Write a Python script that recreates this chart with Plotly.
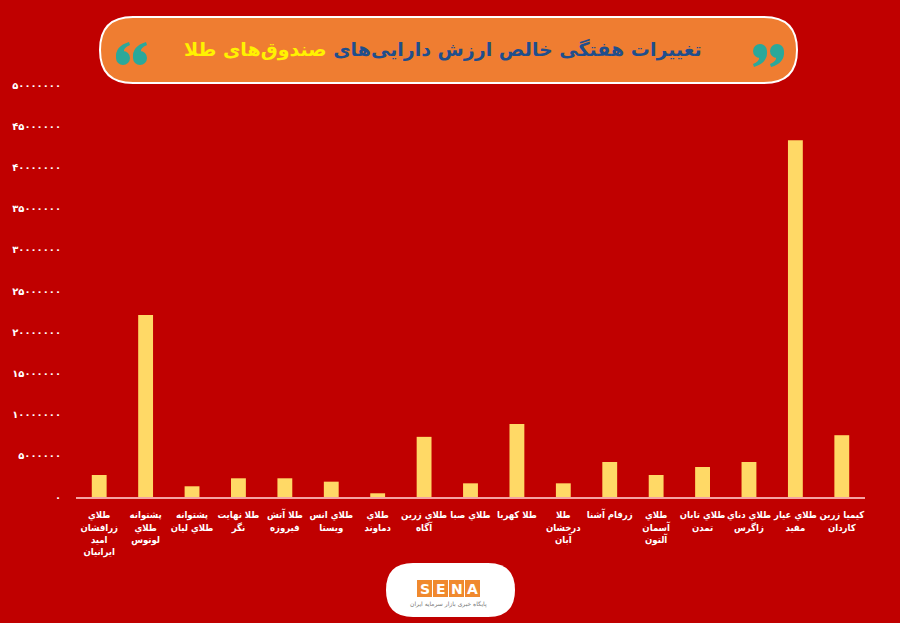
import plotly.graph_objects as go

categories = [
    "طلاي<br>زرافشان<br>امید<br>ایرانیان",
    "پشتوانه<br>طلاي<br>لوتوس",
    "پشتوانه<br>طلاي لیان",
    "طلا نهایت<br>نگر",
    "طلا آتش<br>فیروزه",
    "طلاي انس<br>ویستا",
    "طلاي<br>دماوند",
    "طلاي زرین<br>آگاه",
    "طلاي صبا",
    "طلا کهربا",
    "طلا<br>درخشان<br>آبان",
    "زرفام آشنا",
    "طلاي<br>آسمان<br>آلتون",
    "طلاي تابان<br>تمدن",
    "طلاي دناي<br>زاگرس",
    "طلاي عیار<br>مفید",
    "کیمیا زرین<br>کاردان",
]
values = [2670000, 22100000, 1300000, 2270000, 2270000, 1860000, 450000,
          7300000, 1660000, 8860000, 1660000, 4250000, 2670000, 3640000,
          4250000, 43300000, 7500000]

tick_vals = [0, 5000000, 10000000, 15000000, 20000000, 25000000,
             30000000, 35000000, 40000000, 45000000, 50000000]
tick_text = ["۰", "۵۰۰۰۰۰۰", "۱۰۰۰۰۰۰۰", "۱۵۰۰۰۰۰۰", "۲۰۰۰۰۰۰۰", "۲۵۰۰۰۰۰۰",
             "۳۰۰۰۰۰۰۰", "۳۵۰۰۰۰۰۰", "۴۰۰۰۰۰۰۰", "۴۵۰۰۰۰۰۰", "۵۰۰۰۰۰۰۰"]

title_main = "تغییرات هفتگی خالص ارزش دارایی‌های"
title_hl = "صندوق‌های طلا"

BG = "#C00000"
TEAL = "#2BA89A"
FW, FH = 900, 623
L, R, T, B = 76, 35, 85, 126
PW, PH = FW - L - R, FH - T - B


def px(x):
    return (x - L) / PW


def py(y):
    return (FH - B - y) / PH


def P(x, y):
    return f"{px(x)},{py(y)}"


def pill(x0, y0, x1, y1, r):
    return " ".join([
        f"M{P(x0 + r, y0)}", f"L{P(x1 - r, y0)}",
        f"Q{P(x1, y0)} {P(x1, y0 + r)}", f"L{P(x1, y1 - r)}",
        f"Q{P(x1, y1)} {P(x1 - r, y1)}", f"L{P(x0 + r, y1)}",
        f"Q{P(x0, y1)} {P(x0, y1 - r)}", f"L{P(x0, y0 + r)}",
        f"Q{P(x0, y0)} {P(x0 + r, y0)}", "Z",
    ])


def quote_mark(cx, cy, r, down):
    s = 1 if down else -1
    circ = dict(type="circle", xref="paper", yref="paper",
                x0=px(cx - r), x1=px(cx + r), y0=py(cy + r), y1=py(cy - r),
                fillcolor=TEAL, line=dict(width=0), layer="above")
    tail = " ".join([
        f"M{P(cx + s * r, cy)}",
        f"Q{P(cx + s * (r + 1), cy + s * 12)} {P(cx - s * 6, cy + s * 16)}",
        f"L{P(cx - s * 7, cy + s * 13)}",
        f"Q{P(cx, cy + s * 10)} {P(cx - s * 1, cy + s * (r - 1))}",
        "Z",
    ])
    tail_shape = dict(type="path", xref="paper", yref="paper", path=tail,
                      fillcolor=TEAL, line=dict(width=0), layer="above")
    return [circ, tail_shape]


fig = go.Figure()
fig.add_trace(go.Bar(
    x=list(range(len(categories))), y=values,
    marker=dict(color="#FFD966", line=dict(width=0)),
    hoverinfo="skip",
))

shapes = [
    dict(type="path", xref="paper", yref="paper", path=pill(100, 17, 797, 83, 33),
         fillcolor="#EF7D31", line=dict(color="white", width=2), layer="above"),
    dict(type="path", xref="paper", yref="paper", path=pill(386, 563, 515, 617, 27),
         fillcolor="white", line=dict(width=0), layer="above"),
]
# right quote "99" and left quote "66"
shapes += quote_mark(760, 51, 7, True) + quote_mark(777, 51, 7, False * 0 + True)
shapes += quote_mark(123, 58, 7, False) + quote_mark(140, 58, 7, False)

annotations = [
    dict(xref="paper", yref="paper", x=px(443), y=py(50), showarrow=False,
         xanchor="center", yanchor="middle",
         text=f'<span style="color:#1F4E8C">{title_main}</span> '
              f'<span style="color:#FFF200">{title_hl}</span>',
         font=dict(family="DejaVu Sans", size=19, weight="bold")),
]
letters = ["S", "E", "N", "A"]
for i, ch in enumerate(letters):
    x0 = 417 + i * 16
    shapes.append(dict(type="rect", xref="paper", yref="paper",
                       x0=px(x0), x1=px(x0 + 15), y0=py(597), y1=py(580),
                       fillcolor="#F0892E", line=dict(width=0), layer="above"))
    annotations.append(dict(xref="paper", yref="paper", x=px(x0 + 7.5), y=py(588.5),
                            showarrow=False, xanchor="center", yanchor="middle", text=ch,
                            font=dict(family="DejaVu Sans", size=14, color="white", weight="bold")))
annotations.append(dict(xref="paper", yref="paper", x=px(448.5), y=py(604), showarrow=False,
                        xanchor="center", yanchor="middle",
                        text="پایگاه خبری بازار سرمایه ایران",
                        font=dict(family="DejaVu Sans", size=6, color="#777777")))

fig.update_layout(
    width=FW, height=FH,
    margin=dict(l=L, r=R, t=T, b=B, pad=0),
    paper_bgcolor=BG, plot_bgcolor=BG,
    showlegend=False,
    bargap=0.68,
    shapes=shapes,
    annotations=annotations,
    xaxis=dict(
        tickmode="array", tickvals=list(range(len(categories))), ticktext=categories,
        range=[-0.5, len(categories) - 0.5],
        tickangle=0, showgrid=False, zeroline=False,
        showline=True, linecolor="#F4A3A3", linewidth=2,
        ticks="outside", ticklen=8, tickcolor=BG,
        tickfont=dict(family="DejaVu Sans Condensed", size=9.5, color="white", weight="bold"),
    ),
    yaxis=dict(
        range=[0, 50000000], tickmode="array", tickvals=tick_vals, ticktext=tick_text,
        showgrid=False, zeroline=False, showline=False,
        ticks="outside", ticklen=12, tickcolor=BG,
        tickfont=dict(family="DejaVu Sans", size=10, color="white", weight="bold"),
    ),
)

fig.write_html("out.html", config={"displayModeBar": False},
               post_script="document.body.style.margin='0';document.body.style.overflow='hidden';")
